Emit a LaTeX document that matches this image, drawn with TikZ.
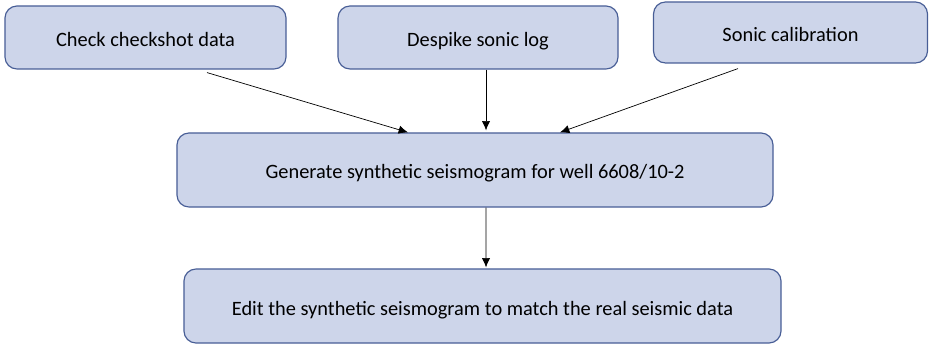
\documentclass[tikz,border=0pt]{standalone}
\usepackage{fontspec}
\setmainfont{Carlito}
\usetikzlibrary{arrows.meta}

\definecolor{boxfill}{RGB}{205,213,234}
\definecolor{boxline}{RGB}{72,94,150}

\tikzset{
  task/.style={draw=boxline,fill=boxfill,line width=1pt,rounded corners=0.36cm,
    inner sep=0pt,text height=0.66cm,text depth=0.12cm,font=\fontsize{17.4}{20}\selectfont},
  flow/.style={-{Latex[length=8pt,width=7pt]},line width=0.6pt}
}

\begin{document}
\begin{tikzpicture}[x=0.03cm,y=-0.03cm]
  \useasboundingbox (0,0) rectangle (929,345);
  % preparation steps
  \node[task,minimum width=8.43cm,minimum height=1.89cm] (chk) at (145.5,37.5) {Check checkshot data};
  \node[task,minimum width=8.40cm,minimum height=1.89cm] (dsp) at (478,37.5) {Despike sonic log};
  \node[task,minimum width=8.22cm,minimum height=1.83cm] (cal) at (790.5,32.5) {Sonic calibration};
  % synthetic and editing
  \node[task,minimum width=17.88cm,minimum height=2.22cm] (gen) at (475,170) {Generate synthetic seismogram for well 6608/10-2};
  \node[task,minimum width=17.91cm,minimum height=2.22cm] (edt) at (482.5,306) {Edit the synthetic seismogram to match the real seismic data};

  \draw[flow] ([xshift=1.845cm,yshift=-0.09cm]chk.south) -- ([xshift=-2.01cm]gen.north);
  \draw[flow] ([xshift=0.24cm]dsp.south) -- ([xshift=0.33cm,yshift=0.06cm]gen.north);
  \draw[flow] ([xshift=-1.575cm,yshift=-0.15cm]cal.south) -- ([xshift=2.55cm]gen.north);
  \draw[flow] ([xshift=0.33cm]gen.south) -- ([xshift=0.105cm,yshift=0.03cm]edt.north);
\end{tikzpicture}
\end{document}
